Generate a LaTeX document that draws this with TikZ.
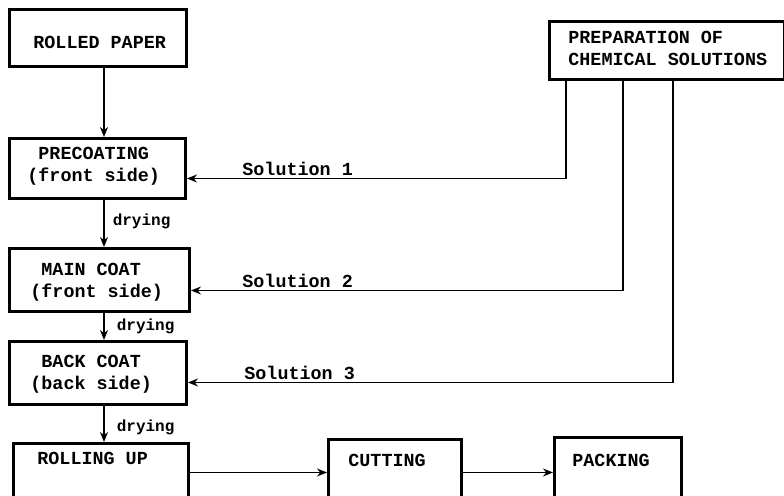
\documentclass[tikz,border=0pt]{standalone}
\usepackage{fontspec}
\setmonofont{Liberation Mono}
\usetikzlibrary{arrows.meta,calc}
\begin{document}
\begin{tikzpicture}[x=0.5pt,y=-0.5pt,
  box/.style={draw,line width=1.5pt,inner sep=0pt,anchor=north west},
  txt/.style={font=\ttfamily\bfseries\fontsize{9.2}{11}\selectfont,inner sep=0pt,anchor=west,align=left},
  small/.style={font=\ttfamily\bfseries\fontsize{8}{10}\selectfont,inner sep=0pt,anchor=west},
  arr/.style={line width=0.8pt,-{Stealth[length=5pt,width=4pt]}}]
\useasboundingbox (0,0) rectangle (784,496);
\clip (0,0) rectangle (784,496);
% boxes
\node[box,minimum width=88.5pt,minimum height=28.5pt] (paper) at (8,8) {};
\node[box,minimum width=88pt,minimum height=30pt] (pre) at (8,137) {};
\node[box,minimum width=90pt,minimum height=31.5pt] (main) at (8,247) {};
\node[box,minimum width=88.5pt,minimum height=31.5pt] (back) at (8,340) {};
\node[box,minimum width=87.5pt,minimum height=32pt] (roll) at (12,442) {};
\node[box,minimum width=66.5pt,minimum height=34pt] (cut) at (327,438) {};
\node[box,minimum width=63.5pt,minimum height=35pt] (pack) at (553,436) {};
\node[box,minimum width=117.5pt,minimum height=29pt] (prep) at (548,20) {};
% texts
\node[txt] (tpaper) at (33,42) {ROLLED PAPER};
\node[txt] (tpre) at (27,166) {\hspace*{0.6em}PRECOATING\\(front side)};
\node[txt] (tmain) at (30,282) {\hspace*{0.6em}MAIN COAT\\(front side)};
\node[txt] (tback) at (30,374) {\hspace*{0.6em}BACK COAT\\(back side)};
\node[txt] (troll) at (37,458) {ROLLING UP};
\node[txt] (tcut) at (348,460) {CUTTING};
\node[txt] (tpack) at (572,460) {PACKING};
\node[txt] (tprep) at (568,48) {PREPARATION OF\\CHEMICAL SOLUTIONS};
% vertical flow
\draw[arr] ($(paper.south west)+(96,0)$) coordinate (a1) -- (a1 |- pre.north);
\draw[arr] ($(pre.south west)+(96,0)$) coordinate (a2) -- (a2 |- main.north)
  node[small,pos=0.45,right=4pt] (d1) {drying};
\draw[arr] ($(main.south west)+(96,0)$) coordinate (a3) -- (a3 |- back.north)
  node[small,pos=0.5,right=6pt] (d2) {drying};
\draw[arr] ($(back.south west)+(96,0)$) coordinate (a4) -- (a4 |- roll.north)
  node[small,pos=0.6,right=6pt] (d3) {drying};
% horizontal flow
\draw[arr] ($(roll.east)+(0,-3)$) coordinate (h1) -- (h1 -| cut.west);
\draw[arr] ($(cut.east)+(0,-1)$) coordinate (h2) -- (h2 -| pack.west);
% solutions
\draw[arr] ($(prep.south west)+(18,0)$) |- ($(pre.east)+(0,10)$) coordinate (e1);
\draw[arr] ($(prep.south west)+(75,0)$) |- ($(main.east)+(0,10.5)$) coordinate (e2);
\draw[arr] ($(prep.south west)+(125,0)$) |- ($(back.east)+(0,9.5)$) coordinate (e3);
\node[txt,anchor=south west,inner sep=1pt] (s1) at ($(e1)+(53,0)$) {Solution 1};
\node[txt,anchor=south west,inner sep=1pt] (s2) at ($(e2)+(49,0)$) {Solution 2};
\node[txt,anchor=south west,inner sep=1pt] (s3) at ($(e3)+(54,0)$) {Solution 3};
\end{tikzpicture}
\end{document}
